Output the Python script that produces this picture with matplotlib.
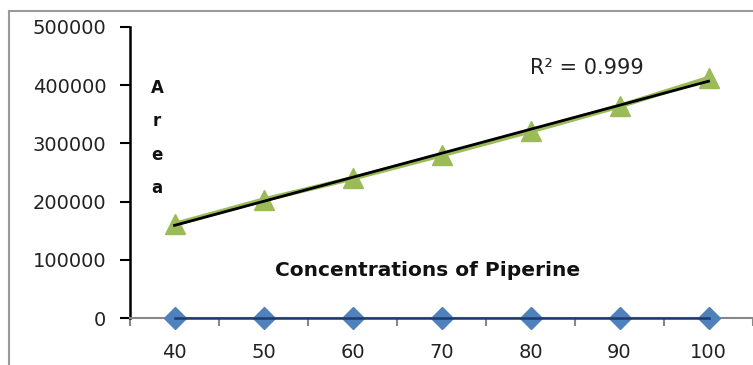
import numpy as np
import matplotlib.pyplot as plt
from matplotlib.lines import Line2D

# data
concentrations = [40, 50, 60, 70, 80, 90, 100]
area_blank = [0, 0, 0, 0, 0, 0, 0]
area_piperine = [161000, 203000, 240000, 280000, 321000, 364000, 412000]
y_ticks = [0, 100000, 200000, 300000, 400000, 500000]

plt.rcParams['font.family'] = ['DejaVu Sans']

fig = plt.figure(figsize=(7.53, 3.65), dpi=100)
ax = fig.add_axes([130 / 753, 47 / 365, 1 - 130 / 753, 291 / 365])

pos = np.arange(len(concentrations))

# blank series (diamonds on zero)
ax.plot(pos, area_blank, color='#4F81BD', marker='D', markersize=11,
        linestyle='none', zorder=5, clip_on=False)
ax.plot(pos, area_blank, color='#1F3A6E', linewidth=1.8, zorder=6, clip_on=False)

# piperine series
ax.plot(pos, area_piperine, color='#9BBB59', marker='^', markersize=14,
        linewidth=3.5, zorder=3)

# linear trendline
k, b = np.polyfit(concentrations, area_piperine, 1)
fit = k * np.array(concentrations) + b
ax.plot(pos, fit, color='black', linewidth=2, zorder=4)

ax.set_xlim(-0.5, (753 - 176) / 90.5)
ax.set_ylim(0, 500000)

ax.set_yticks(y_ticks)
ax.set_yticklabels([str(v) for v in y_ticks], fontsize=14, color='#222222')
ax.tick_params(axis='y', direction='out', length=7, width=1.5, color='black', pad=10)

ax.set_xticks(pos)
ax.set_xticklabels([str(c) for c in concentrations], fontsize=14, color='#222222')
ax.set_xticks(np.arange(-0.5, 7, 1), minor=True)
ax.tick_params(axis='x', which='major', length=0, pad=18)
ax.tick_params(axis='x', which='minor', direction='out', length=6, width=1.5,
               color='#888888')

for s in ['top', 'right']:
    ax.spines[s].set_visible(False)
ax.spines['left'].set_color('black')
ax.spines['left'].set_linewidth(1.8)
ax.spines['bottom'].set_color('#888888')
ax.spines['bottom'].set_linewidth(1.5)

# labels
fig.text(157 / 753, 1 - 138 / 365, 'A\nr\ne\na', ha='center', va='center',
         fontsize=12, fontweight='bold', linespacing=2.1, color='#111111')
fig.text(428 / 753, 1 - 271 / 365, 'Concentrations of Piperine', ha='center',
         va='center', fontsize=14.5, fontweight='bold', color='#111111')
fig.text(530 / 753, 1 - 68 / 365, 'R² = 0.999', ha='left', va='center',
         fontsize=15, color='#222222')

# outer chart border
fig.add_artist(Line2D([9 / 753, 9 / 753], [0, 1 - 11 / 365], color='#999999',
                      linewidth=1.5))
fig.add_artist(Line2D([9 / 753, 1], [1 - 11 / 365, 1 - 11 / 365], color='#999999',
                      linewidth=1.5))

fig.savefig('out.png', dpi=100)
